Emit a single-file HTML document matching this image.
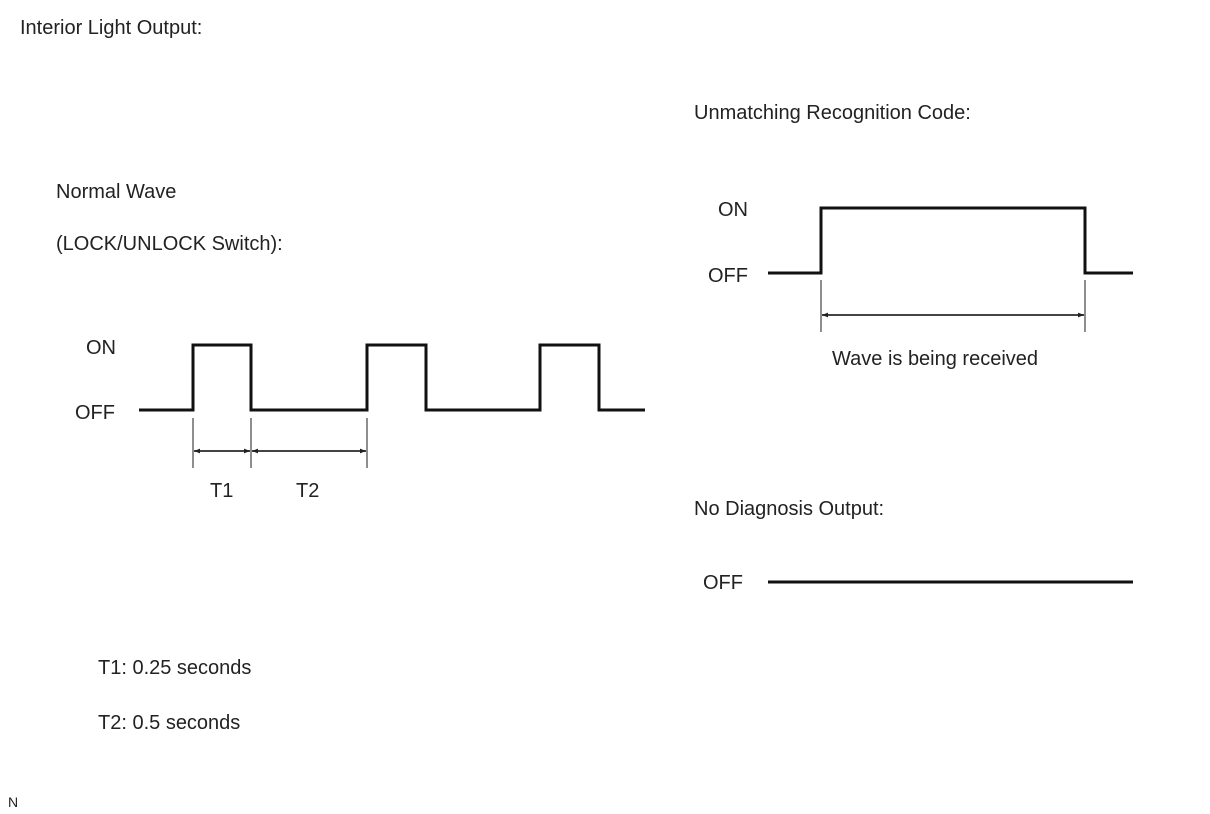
<!DOCTYPE html>
<html><head><meta charset="utf-8"><style>
html,body{margin:0;padding:0;background:#fff;}
svg{display:block;}
text{font-family:"Liberation Sans",Arial,sans-serif;font-size:20px;fill:#222;}
</style></head><body>
<svg width="1210" height="814" viewBox="0 0 1210 814" xmlns="http://www.w3.org/2000/svg">
<defs>
<marker id="a" viewBox="0 0 10 10" refX="10" refY="5" markerWidth="8" markerHeight="6" orient="auto-start-reverse" markerUnits="userSpaceOnUse"><path d="M0,1 L10,5 L0,9 z" fill="#222"/></marker>
</defs>
<text x="20" y="34">Interior Light Output:</text>
<text x="56" y="198">Normal Wave</text>
<text x="56" y="250">(LOCK/UNLOCK Switch):</text>
<text x="86" y="354">ON</text>
<text x="75" y="419">OFF</text>
<polyline points="139,410 193,410 193,345 251,345 251,410 367,410 367,345 426,345 426,410 540,410 540,345 599,345 599,410 645,410" fill="none" stroke="#111" stroke-width="3"/>
<g stroke="#444" stroke-width="1.2">
<line x1="193" y1="418" x2="193" y2="468"/>
<line x1="251" y1="418" x2="251" y2="468"/>
<line x1="367" y1="418" x2="367" y2="468"/>
<line x1="194" y1="451" x2="250" y2="451" stroke-width="2" marker-start="url(#a)" marker-end="url(#a)"/>
<line x1="252" y1="451" x2="366" y2="451" stroke-width="2" marker-start="url(#a)" marker-end="url(#a)"/>
</g>
<text x="210" y="497">T1</text>
<text x="296" y="497">T2</text>
<text x="98" y="674">T1: 0.25 seconds</text>
<text x="98" y="729">T2: 0.5 seconds</text>
<text x="8" y="807" style="font-size:14px">N</text>

<text x="694" y="119">Unmatching Recognition Code:</text>
<text x="718" y="216">ON</text>
<text x="708" y="282">OFF</text>
<polyline points="768,273 821,273 821,208 1085,208 1085,273 1133,273" fill="none" stroke="#111" stroke-width="3"/>
<g stroke="#444" stroke-width="1.2">
<line x1="821" y1="280" x2="821" y2="332"/>
<line x1="1085" y1="280" x2="1085" y2="332"/>
<line x1="822" y1="315" x2="1084" y2="315" stroke-width="2" marker-start="url(#a)" marker-end="url(#a)"/>
</g>
<text x="832" y="365">Wave is being received</text>
<text x="694" y="515">No Diagnosis Output:</text>
<text x="703" y="589">OFF</text>
<line x1="768" y1="582" x2="1133" y2="582" stroke="#111" stroke-width="3"/>
</svg>
</body></html>
